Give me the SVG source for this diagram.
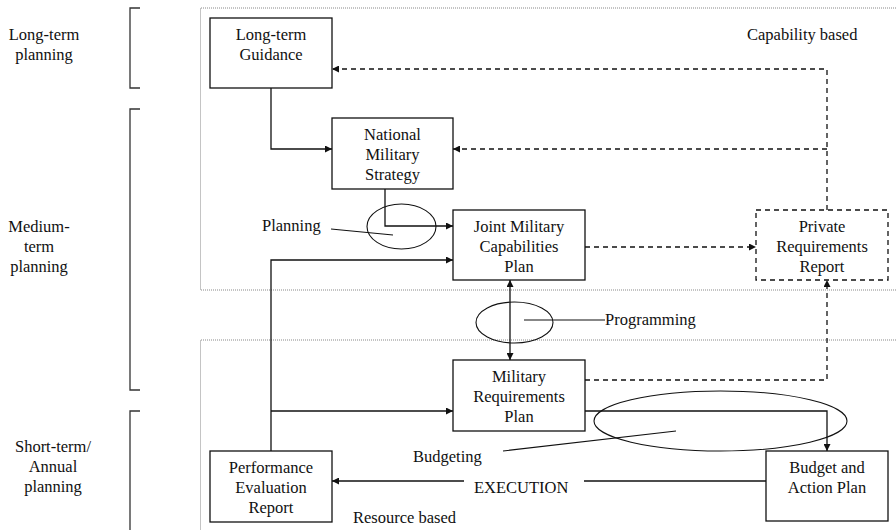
<svg xmlns="http://www.w3.org/2000/svg" width="896" height="530" viewBox="0 0 896 530" font-family="'Liberation Serif', 'DejaVu Serif', serif">
  <style>
    text { font-family: 'Liberation Serif', 'DejaVu Serif', serif; font-size: 16.5px; fill: #111; }
    .c { text-anchor: middle; }
    .box { fill: #fff; stroke: #111; stroke-width: 1.3; }
    .dbox { fill: #fff; stroke: #111; stroke-width: 1.3; stroke-dasharray: 5 4; }
    .ln { fill: none; stroke: #111; stroke-width: 1.3; }
    .dl { fill: none; stroke: #111; stroke-width: 1.3; stroke-dasharray: 5 4; }
    .zone { fill: none; stroke: #888; stroke-width: 1; stroke-dasharray: 1 1; }
    .brk { fill: none; stroke: #333; stroke-width: 1.3; }
    .ann { fill: none; stroke: #111; stroke-width: 1.1; }
  </style>
  <defs>
    <marker id="ah" viewBox="0 0 10 10" refX="10" refY="5" markerWidth="8" markerHeight="7" markerUnits="userSpaceOnUse" orient="auto-start-reverse">
      <path d="M0,0 L10,5 L0,10 z" fill="#111"/>
    </marker>
  </defs>

  <!-- planning horizon brackets -->
  <g id="brackets">
    <path class="brk" d="M140,8 H130 V88 H140"/>
    <path class="brk" d="M140,109 H130 V390 H140"/>
    <path class="brk" d="M140,411 H130 V532"/>
  </g>
  <g id="horizon-labels">
    <text class="c" x="44" y="40">Long-term</text>
    <text class="c" x="44" y="60">planning</text>
    <text class="c" x="39" y="232">Medium-</text>
    <text class="c" x="39" y="252">term</text>
    <text class="c" x="39" y="272">planning</text>
    <text class="c" x="53" y="452">Short-term/</text>
    <text class="c" x="53" y="472">Annual</text>
    <text class="c" x="53" y="492">planning</text>
  </g>

  <!-- dotted zones -->
  <g id="zones">
    <path class="zone" d="M900,8 H200.5 V290 H900"/>
    <path class="zone" d="M900,340 H200.5 V532"/>
    <text x="747" y="40">Capability based</text>
    <text x="353" y="523">Resource based</text>
  </g>

  <!-- connectors -->
  <g id="connectors">
    <path class="ln" d="M271,88 V149 H332" marker-end="url(#ah)"/>
    <path class="ln" d="M385,189 V226 H453" marker-end="url(#ah)"/>
    <path class="ln" d="M271,451 V260 H453" marker-end="url(#ah)"/>
    <path class="ln" d="M271,411 H453" marker-end="url(#ah)"/>
    <path class="ln" d="M510,280 V360" marker-start="url(#ah)" marker-end="url(#ah)"/>
    <path class="dl" d="M585,247 H756" marker-end="url(#ah)"/>
    <path class="dl" d="M827,210 V69 H332" marker-end="url(#ah)"/>
    <path class="dl" d="M827,149 H453" marker-end="url(#ah)"/>
    <path class="dl" d="M585,380 H827 V280" marker-end="url(#ah)"/>
    <path class="ln" d="M585,411 H827 V451" marker-end="url(#ah)"/>
    <path class="ln" d="M766,481 H584"/>
    <path class="ln" d="M464,481 H332" marker-end="url(#ah)"/>
    <text x="474" y="493">EXECUTION</text>
  </g>

  <!-- phase annotations -->
  <g id="phase-planning">
    <ellipse class="ann" cx="401.5" cy="226.5" rx="34.5" ry="22.5"/>
    <path class="ann" d="M331,229 L393,235"/>
    <text x="262" y="231">Planning</text>
  </g>
  <g id="phase-programming">
    <ellipse class="ann" cx="514.5" cy="322.5" rx="38.5" ry="20.5"/>
    <path class="ann" d="M524,320 H605"/>
    <text x="605" y="325">Programming</text>
  </g>
  <g id="phase-budgeting">
    <ellipse class="ann" cx="720.5" cy="421" rx="126.5" ry="30"/>
    <path class="ann" d="M503,451 L676,431"/>
    <text x="413" y="462">Budgeting</text>
  </g>

  <!-- nodes -->
  <g id="long-term-guidance">
    <rect class="box" x="210" y="18" width="122" height="70"/>
    <text class="c" x="271" y="40">Long-term</text>
    <text class="c" x="271" y="60">Guidance</text>
  </g>
  <g id="national-military-strategy">
    <rect class="box" x="332" y="118" width="121" height="71"/>
    <text class="c" x="392.5" y="140">National</text>
    <text class="c" x="392.5" y="160">Military</text>
    <text class="c" x="392.5" y="180">Strategy</text>
  </g>
  <g id="joint-military-capabilities-plan">
    <rect class="box" x="453" y="210" width="132" height="70"/>
    <text class="c" x="519" y="232">Joint Military</text>
    <text class="c" x="519" y="252">Capabilities</text>
    <text class="c" x="519" y="272">Plan</text>
  </g>
  <g id="private-requirements-report">
    <rect class="dbox" x="756" y="210" width="132" height="70"/>
    <text class="c" x="822" y="232">Private</text>
    <text class="c" x="822" y="252">Requirements</text>
    <text class="c" x="822" y="272">Report</text>
  </g>
  <g id="military-requirements-plan">
    <rect class="box" x="453" y="360" width="132" height="71"/>
    <text class="c" x="519" y="382">Military</text>
    <text class="c" x="519" y="402">Requirements</text>
    <text class="c" x="519" y="422">Plan</text>
  </g>
  <g id="budget-and-action-plan">
    <rect class="box" x="766" y="451" width="122" height="70"/>
    <text class="c" x="827" y="473">Budget and</text>
    <text class="c" x="827" y="493">Action Plan</text>
  </g>
  <g id="performance-evaluation-report">
    <rect class="box" x="210" y="451" width="122" height="71"/>
    <text class="c" x="271" y="473">Performance</text>
    <text class="c" x="271" y="493">Evaluation</text>
    <text class="c" x="271" y="513">Report</text>
  </g>
</svg>
